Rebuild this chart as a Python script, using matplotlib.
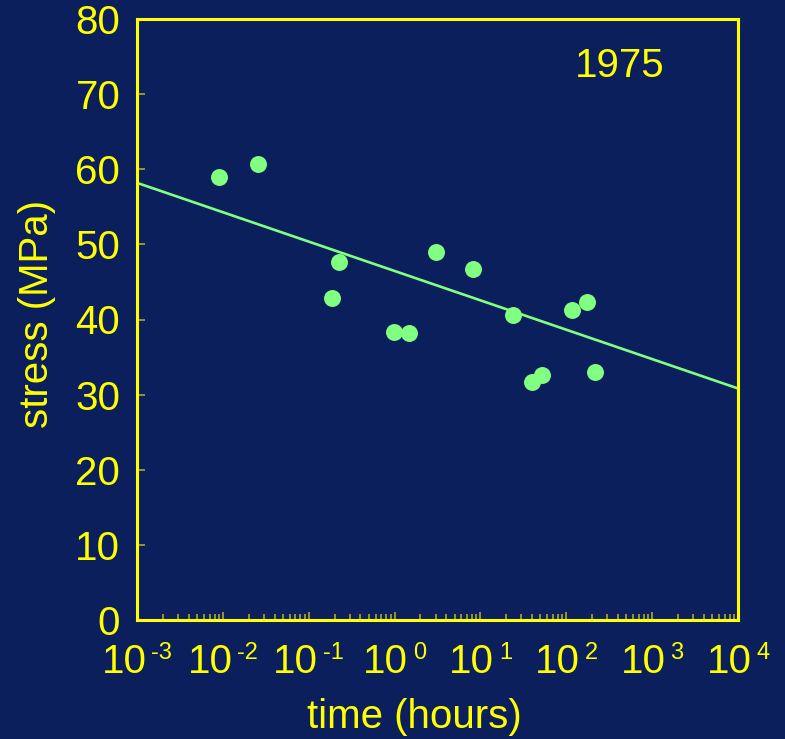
import numpy as np
import matplotlib.pyplot as plt

plt.rcParams['font.family'] = ['Liberation Sans', 'DejaVu Sans']

# creep rupture data, 1975
hours = [0.0090, 0.0256, 0.187, 0.225, 0.98, 1.47, 3.03, 8.2,
         23.9, 39.9, 52.0, 116.0, 174.0, 216.0]
stress = [59.0, 60.7, 42.9, 47.7, 38.3, 38.2, 49.0, 46.7,
          40.6, 31.7, 32.6, 41.3, 42.3, 33.0]

# fitted line: stress = fit_a + fit_b * log10(hours)
fit_a = 46.46
fit_b = -3.91

decades = [-3, -2, -1, 0, 1, 2, 3, 4]
yticks = [0, 10, 20, 30, 40, 50, 60, 70, 80]

bg = '#0b1f5c'
yel = '#ffff00'
tickc = '#a8a838'
green = '#80ff80'
fs = 29
fs_sup = 17

fig = plt.figure(figsize=(7.85, 7.39), dpi=100, facecolor=bg)
ax = fig.add_axes([137/785, 119/739, 601/785, 601/739])
ax.set_facecolor(bg)

ax.set_xscale('log')
ax.set_xlim(10.0**decades[0], 10.0**decades[-1])
ax.set_ylim(yticks[0], yticks[-1])

tline = np.logspace(decades[0], decades[-1], 50)
ax.plot(tline, fit_a + fit_b*np.log10(tline), color=green, lw=1.9, zorder=2)
ax.plot(hours, stress, 'o', color=green, ms=12.2, mec='none', zorder=3)

for s in ax.spines.values():
    s.set_color(yel)
    s.set_linewidth(2.2)

ax.set_yticks(yticks)
ax.tick_params(axis='y', direction='in', length=6, width=1.2, color=tickc,
               labelcolor=yel, labelsize=fs, pad=12)
ax.tick_params(axis='x', which='major', direction='in', length=6, width=1.2,
               color=tickc, labelbottom=False)
ax.tick_params(axis='x', which='minor', direction='in', length=4, width=1.2,
               color=tickc)
# hide end ticks that sit on the frame
for t in ax.yaxis.get_major_ticks()[::len(yticks)-1]:
    t.tick1line.set_visible(False)

# x tick labels drawn as 10 plus a raised exponent
px = 100/72
w10 = 2*0.556*fs*px
gap = 5
for d in decades:
    sup = str(d)
    ws = (0.889 if d < 0 else 0.556) * fs_sup * px
    total = w10 + gap + ws
    ax.annotate('10', xy=(10.0**d, 0), xycoords=('data', 'axes fraction'),
                xytext=(-total/2, -53), textcoords='offset pixels',
                ha='left', va='baseline', fontsize=fs, color=yel,
                annotation_clip=False)
    ax.annotate(sup, xy=(10.0**d, 0), xycoords=('data', 'axes fraction'),
                xytext=(-total/2 + w10 + gap, -39), textcoords='offset pixels',
                ha='left', va='baseline', fontsize=fs_sup, color=yel,
                annotation_clip=False)

ax.text(0.8037, 0.9035, '1975', transform=ax.transAxes, ha='center',
        va='baseline', fontsize=fs, color=yel)

fig.text(414/785, 1 - 728/739, 'time (hours)', ha='center', va='baseline',
         fontsize=fs, color=yel)
fig.text(37/785, 1 - 314/739, 'stress (MPa)', ha='center', va='center',
         rotation=90, fontsize=fs, color=yel)

fig.savefig('out.png', dpi=100, facecolor=bg)
